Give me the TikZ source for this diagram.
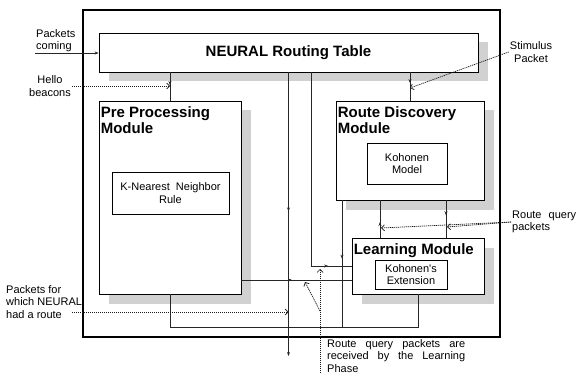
\documentclass[tikz,border=0pt]{standalone}
\usepackage{fontspec}
\setmainfont{Liberation Sans}
\usepackage{tikz}
\usetikzlibrary{arrows.meta, calc, shadows, decorations.markings}
\hyphenpenalty=10000
\tolerance=9999

\begin{document}
\begin{tikzpicture}[
    x=1pt, y=-1pt,
    font=\fontsize{11}{12.5}\selectfont,
    >={Stealth[length=4pt, width=3pt]},
    outerbox/.style={draw, line width=1.8pt, minimum width=417pt, minimum height=327pt},
    rtable/.style={draw, fill=white, line width=0.8pt, font=\fontsize{15}{17}\selectfont\bfseries, drop shadow={shadow xshift=9.5pt, shadow yshift=-9.5pt, fill=black!18, opacity=1}},
    module/.style={draw, fill=white, line width=0.8pt, drop shadow={shadow xshift=9.5pt, shadow yshift=-9.5pt, fill=black!18, opacity=1}},
    modtitle/.style={anchor=north west, align=left, inner xsep=2pt, inner ysep=5.5pt, font=\fontsize{15}{16.5}\selectfont\bfseries},
    inbox/.style={draw, line width=0.8pt, align=center, inner sep=1pt},
    lbl/.style={align=left, inner sep=1pt},
    wire/.style={line width=0.7pt, black!85},
    arrow/.style={->, line width=0.7pt, black!85},
    marrow/.style={postaction={decorate}, decoration={markings, mark=at position #1 with {\arrow{Stealth[length=4pt, width=3pt]}}}},
    dotarrow/.style={-{Straight Barb[length=3pt, width=6pt]}, line width=0.7pt, black!90, dash pattern=on 1.2pt off 0.8pt}
]
\useasboundingbox (0,0) rectangle (578,377);

% Boxes
\node[outerbox] (outer) at (291.5,173.5) {};
\node[rtable, minimum width=379pt, minimum height=39pt] (table) at (288.5,52.5) {NEURAL Routing Table};
\node[module, minimum width=142pt, minimum height=193pt, label={[modtitle]north west:Pre Processing\\Module}] (pre) at (170,197.5) {};
\node[inbox, minimum width=117pt, minimum height=42pt] (knn) at (170.5,193) {K-Nearest~~Neighbor\\Rule};
\node[module, minimum width=148pt, minimum height=99pt, label={[modtitle]north west:Route Discovery\\Module}] (rdm) at (410,150.5) {};
\node[inbox, minimum width=80pt, minimum height=41pt] (koh) at (407,163.5) {Kohonen\\Model};
\node[module, minimum width=132pt, minimum height=56pt, label={[modtitle]north west:Learning Module}] (learn) at (418,266) {};
\node[inbox, minimum width=72pt, minimum height=29pt] (ext) at (411,274.5) {Kohonen\textquotesingle s\\Extension};

% Labels
\node[lbl, anchor=south west] (pkin) at (35,53) {Packets\\coming};
\node[lbl, align=center] (hello) at (50,86) {Hello\\beacons};
\node[lbl, align=center] (stim) at (531,52) {Stimulus\\Packet};
\node[lbl, anchor=west, text width=64pt, align=justify] (rq) at (511,222) {Route query packets};
\node[lbl, anchor=north west] (pkrl) at (5,284) {Packets for\\which NEURAL\\had a route};
\node[lbl, anchor=north west, text width=138pt, align=justify] (rql) at (326,338) {Route query packets are received by the Learning Phase};

% Free ends
\coordinate (bus) at (170,327);
\coordinate (exit) at (288.5,356);
\coordinate (qa) at (381,228);
\coordinate (qb) at (447,227);
\coordinate (pkr) at (72,312);
\coordinate (rqt) at (320,269);
\coordinate (rqm) at (320,311);
\coordinate (rqc) at (305,282);

% Arrows
\draw[arrow] (pkin.south west) -- (pkin.south west -| table.west);
\draw[wire, marrow=0.45] (table.south -| pre.north) -- (pre.north);
\draw[dotarrow] (hello.east) -- (pre.north |- hello.east);
\draw[wire, marrow=0.38] (table.south -| rdm.north) -- (rdm.north);
\draw[dotarrow] (stim.west) -- (rdm.north |- 0,88);
\draw[arrow, marrow=0.49] (table.south) -- (exit);
\draw[wire, marrow=0.9] (table.south -| 311,0) |- (learn.west);
\draw[wire, marrow=0.46] (pre.east |- 0,280) -- (learn.west |- 0,280);
\draw[wire] (pre.south) -- (bus) -| (learn.south);
\draw[wire, marrow=0.46] (rdm.south -| 342,0) -- (bus -| 342,0);
\draw[wire, marrow=0.42] (learn.north -| 380,0) -- (rdm.south -| 380,0);
\draw[wire, marrow=0.4] (rdm.south -| 446,0) -- (learn.north -| 446,0);
\draw[dotarrow] (rq.west) -- (qa);
\draw[dotarrow] (rq.west) -- (qb);
\draw[dotarrow] (pkr) -- (table.south |- pkr);
\draw[dotarrow] (rql.south west -| 320,0) -- (rqt);
\draw[dotarrow] (rqm) -- (rqc);

\end{tikzpicture}
\end{document}
